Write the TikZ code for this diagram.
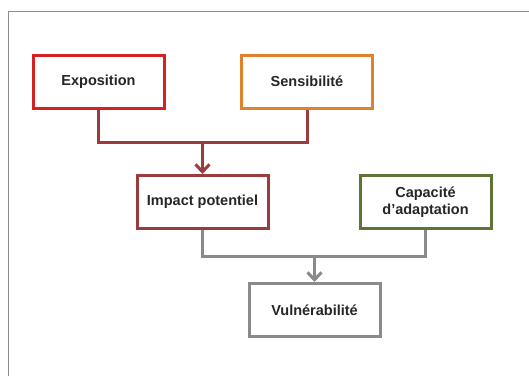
\documentclass[tikz,border=0pt]{standalone}
\usepackage{fontspec}
\setmainfont{Liberation Sans}
\usetikzlibrary{arrows.meta}
\definecolor{cExpo}{HTML}{D42121}
\definecolor{cSens}{HTML}{E0812E}
\definecolor{cImp}{HTML}{9B3B3B}
\definecolor{cCap}{HTML}{5E7436}
\definecolor{cVul}{HTML}{8A8A8A}
\definecolor{cFrame}{HTML}{8C8C8C}
\tikzset{
  boxnode/.style={draw, line width=3pt, minimum width=131pt, minimum height=53pt, inner sep=0pt, fill=white, font=\fontsize{14.5}{17.5}\selectfont\bfseries, align=center, text=black!85},
  conn/.style={line width=3pt},
  arr/.style={line width=3pt, -{Straight Barb[length=7.5pt,width=14pt,line width=3pt]}},
}
\begin{document}
\begin{tikzpicture}[x=1pt,y=-1pt]
\useasboundingbox (0,0) rectangle (529,376);
\fill[white] (0,0) rectangle (529,376);
\coordinate (ftl) at (8.5,11.5);
\coordinate (ftr) at (529,11.5);
\coordinate (fbl) at (8.5,376);
\draw[cFrame, line width=1.5pt] (fbl) -- (ftl) -- (ftr);
\node[boxnode, draw=cExpo] (expo) at (98.5,81.5) {Exposition};
\node[boxnode, draw=cSens] (sens) at (307,81.5) {Sensibilité};
\node[boxnode, draw=cImp] (imp) at (202.5,202) {Impact potentiel};
\node[boxnode, draw=cCap] (cap) at (425.5,202) {Capacité\\d’adaptation};
\node[boxnode, draw=cVul] (vul) at (314.5,310) {Vulnérabilité};
\coordinate (j1) at (202.5,142);
\coordinate (j2) at (314.5,256);
\draw[conn, cImp, line join=miter] (expo.south) |- (j1) -| (sens.south);
\draw[arr, cImp] (j1) -- (imp.north);
\draw[conn, cVul, line join=miter] (imp.south) |- (j2) -| (cap.south);
\draw[arr, cVul] (j2) -- (vul.north);
\end{tikzpicture}
\end{document}
